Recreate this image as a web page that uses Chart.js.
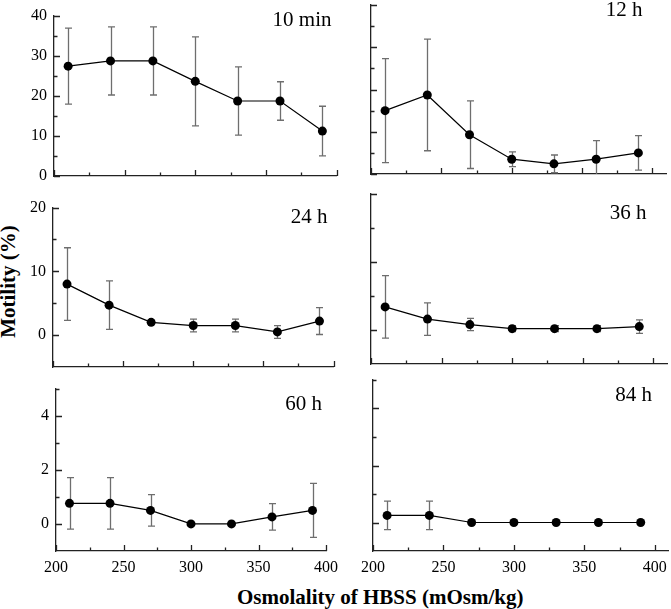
<!DOCTYPE html>
<html>
<head>
<meta charset="utf-8">
<script src="https://cdn.jsdelivr.net/npm/chart.js@4"></script>
<style>
  html, body { margin: 0; padding: 0; background: #fff; overflow: hidden; }
  #wrap { position: relative; width: 671px; height: 609px; }
  #wrap canvas { position: absolute; }
  .title { position: absolute; font-family: "Liberation Serif", serif; font-weight: bold; font-size: 21px; color: #000; white-space: nowrap; }
</style>
</head>
<body>
<div id="wrap">
  <div class="title" id="xTitle">Osmolality of HBSS (mOsm/kg)</div>
  <div class="title" id="yTitle">Motility (%)</div>
</div>
<script>
// Osmolality of HBSS (x values, same for every panel)
const osmolality = [210, 240, 270, 300, 330, 360, 390];

// Motility (%) means and error bars
const motility10min = [27.4, 28.7, 28.7, 23.6, 18.7, 18.7, 11.2];
const error10min = [9.5, 8.5, 8.5, 11.1, 8.5, 4.8, 6.2];
const motility12h = [15.0, 18.7, 9.3, 3.5, 2.4, 3.5, 5.0];
const error12h = [12.3, 13.2, 8.0, 1.75, 2.1, 4.4, 4.1];
const motility24h = [8.0, 4.7, 2.0, 1.5, 1.5, 0.5, 2.2];
const error24h = [5.7, 3.8, 0.2, 1.0, 1.0, 1.0, 2.1];
const motility36h = [3.4, 1.6, 0.8, 0.2, 0.2, 0.2, 0.5];
const error36h = [4.6, 2.4, 0.9, 0.45, 0.45, 0.45, 1.0];
const motility60h = [0.76, 0.76, 0.5, 0, 0, 0.26, 0.5];
const error60h = [0.95, 0.95, 0.58, 0, 0, 0.49, 1.0];
const motility84h = [0.25, 0.25, 0, 0, 0, 0, 0];
const error84h = [0.5, 0.5, 0, 0, 0, 0, 0];

// Tick values
const xTicks = [200, 250, 300, 350, 400];
const xMinorTicks = [225, 275, 325, 375];
const yTicksTop = [0, 10, 20, 30, 40];
const yMinorTop = [5, 15, 25, 35];
const yTicksMid = [0, 10, 20];
const yMinorMid = [5, 15];
const yTicksBottom = [0, 2, 4];
const yMinorBottom = [1, 3, 5];

// Panel setup: plot area in page pixels, axis ranges, which labels show
const panels = [
  { label: '10 min', y: motility10min, err: error10min, area: [54, 7, 337, 176], xMax: 400,
    yMin: 0, yMax: 40, yTicks: yTicksTop, yMinor: yMinorTop, showY: true, showX: false, labelPos: [5, 10] },
  { label: '12 h', y: motility12h, err: error12h, area: [371, 5, 667, 174], xMax: 410,
    yMin: 0, yMax: 40, yTicks: yTicksTop, yMinor: yMinorTop, showY: false, showX: false, labelPos: [24, 11] },
  { label: '24 h', y: motility24h, err: error24h, area: [53, 199, 334, 367], xMax: 400,
    yMin: -5, yMax: 20, yTicks: yTicksMid, yMinor: yMinorMid, showY: true, showX: false, labelPos: [6, 15] },
  { label: '36 h', y: motility36h, err: error36h, area: [371, 194, 668, 364], xMax: 410,
    yMin: -5, yMax: 20, yTicks: yTicksMid, yMinor: yMinorMid, showY: false, showX: false, labelPos: [21, 25] },
  { label: '60 h', y: motility60h, err: error60h, area: [56, 380, 341, 551], xMax: 400,
    yMin: -1, yMax: 5, yTicks: yTicksBottom, yMinor: yMinorBottom, showY: true, showX: true, labelPos: [4, 21] },
  { label: '84 h', y: motility84h, err: error84h, area: [373, 380, 670, 551], xMax: 410,
    yMin: -1, yMax: 5, yTicks: yTicksBottom, yMinor: yMinorBottom, showY: false, showX: true, labelPos: [17, 21] }
];

const PAD_L = 50, PAD_T = 8, PAD_R = 4, PAD_B = 30;
const serif = '"Liberation Serif", "Times New Roman", serif';

// Error bars drawn with the chart's own scales, below the points
function errorBarsFor(panel) {
  return {
    id: 'errorBars',
    beforeDatasetsDraw(chart) {
      const ctx = chart.ctx, xs = chart.scales.x, ys = chart.scales.y, a = chart.chartArea;
      ctx.save();
      ctx.beginPath();
      ctx.rect(a.left, a.top - 1, a.right - a.left, a.bottom - a.top + 1);
      ctx.clip();
      ctx.strokeStyle = '#6e6e6e';
      ctx.lineWidth = 1.3;
      osmolality.forEach((x, i) => {
        const e = panel.err[i];
        if (!e) return;
        const px = Math.round(xs.getPixelForValue(x)) + 0.5;
        const top = ys.getPixelForValue(panel.y[i] + e);
        const bot = ys.getPixelForValue(panel.y[i] - e);
        ctx.beginPath();
        ctx.moveTo(px, top); ctx.lineTo(px, bot);
        ctx.moveTo(px - 3.5, top); ctx.lineTo(px + 3.5, top);
        ctx.moveTo(px - 3.5, bot); ctx.lineTo(px + 3.5, bot);
        ctx.stroke();
      });
      ctx.restore();
    }
  };
}

// Inward tick marks and the panel label
function innerTicksFor(panel) {
  return {
    id: 'innerTicks',
    afterDraw(chart) {
      const ctx = chart.ctx, xs = chart.scales.x, ys = chart.scales.y, a = chart.chartArea;
      ctx.save();
      ctx.strokeStyle = '#222';
      ctx.lineWidth = 1.3;
      ctx.beginPath();
      xTicks.forEach(v => {
        const px = Math.round(xs.getPixelForValue(v)) + 0.5;
        ctx.moveTo(px, a.bottom); ctx.lineTo(px, a.bottom - 6);
      });
      xMinorTicks.forEach(v => {
        const px = Math.round(xs.getPixelForValue(v)) + 0.5;
        ctx.moveTo(px, a.bottom); ctx.lineTo(px, a.bottom - 3.5);
      });
      panel.yTicks.forEach(v => {
        const py = Math.round(ys.getPixelForValue(v)) + 0.5;
        ctx.moveTo(a.left, py); ctx.lineTo(a.left + 6, py);
      });
      panel.yMinor.forEach(v => {
        const py = Math.round(ys.getPixelForValue(v)) + 0.5;
        ctx.moveTo(a.left, py); ctx.lineTo(a.left + 3.5, py);
      });
      ctx.stroke();
      ctx.fillStyle = '#000';
      ctx.font = '21px ' + serif;
      ctx.textAlign = 'right';
      ctx.textBaseline = 'alphabetic';
      ctx.fillText(panel.label, a.right - panel.labelPos[0], a.top + panel.labelPos[1]);
      ctx.restore();
    }
  };
}

const wrap = document.getElementById('wrap');

panels.forEach(panel => {
  const [L, T, R, B] = panel.area;
  const canvas = document.createElement('canvas');
  canvas.width = PAD_L + (R - L) + PAD_R;
  canvas.height = PAD_T + (B - T) + PAD_B;
  canvas.style.left = (L - PAD_L) + 'px';
  canvas.style.top = (T - PAD_T) + 'px';
  wrap.appendChild(canvas);

  new Chart(canvas.getContext('2d'), {
    type: 'line',
    data: {
      datasets: [{
        data: osmolality.map((x, i) => ({ x: x, y: panel.y[i] })),
        borderColor: '#000',
        borderWidth: 1.2,
        backgroundColor: '#000',
        pointRadius: 4.5,
        pointBorderWidth: 0,
        pointBackgroundColor: '#000',
        tension: 0
      }]
    },
    options: {
      responsive: false,
      animation: false,
      devicePixelRatio: 1,
      layout: { padding: { left: 0, top: PAD_T, right: PAD_R, bottom: 0 } },
      plugins: {
        legend: { display: false },
        tooltip: { enabled: false }
      },
      scales: {
        x: {
          type: 'linear',
          min: 200,
          max: panel.xMax,
          afterBuildTicks: s => { s.ticks = xTicks.map(v => ({ value: v })); },
          afterFit: s => { s.height = PAD_B; },
          grid: { display: true, drawOnChartArea: false, drawTicks: false },
          border: { display: true, color: '#222', width: 1.3 },
          ticks: {
            display: panel.showX,
            padding: 7,
            maxRotation: 0,
            autoSkip: false,
            color: '#000',
            font: { family: serif, size: 16 }
          }
        },
        y: {
          type: 'linear',
          min: panel.yMin,
          max: panel.yMax,
          afterBuildTicks: s => { s.ticks = panel.yTicks.map(v => ({ value: v })); },
          afterFit: s => { s.width = PAD_L; },
          grid: { display: true, drawOnChartArea: false, drawTicks: false },
          border: { display: true, color: '#222', width: 1.3 },
          ticks: {
            display: panel.showY,
            padding: 7,
            color: '#000',
            font: { family: serif, size: 16 }
          }
        }
      }
    },
    plugins: [errorBarsFor(panel), innerTicksFor(panel)]
  });
});

// Shared axis titles
const xTitle = document.getElementById('xTitle');
xTitle.style.left = (380 - xTitle.offsetWidth / 2) + 'px';
xTitle.style.top = '585px';
const yTitle = document.getElementById('yTitle');
yTitle.style.left = (8 - yTitle.offsetWidth / 2) + 'px';
yTitle.style.top = (281 - yTitle.offsetHeight / 2) + 'px';
yTitle.style.transform = 'rotate(-90deg)';
</script>
</body>
</html>
